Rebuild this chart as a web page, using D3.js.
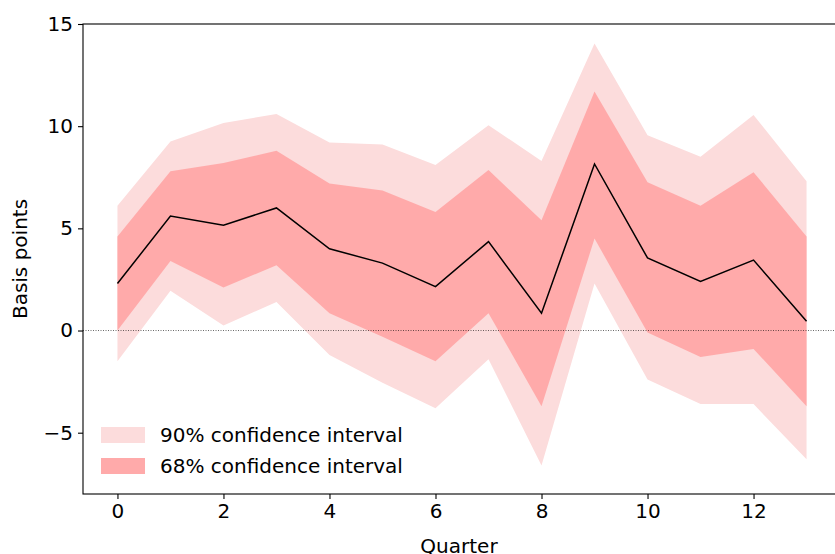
<!DOCTYPE html><html><head><script src="https://cdn.jsdelivr.net/npm/d3@7"></script>
<style>body{margin:0;background:#fff}text{font-family:"DejaVu Sans";fill:#000}</style></head><body><svg id="c" width="835" height="554"></svg><script>
const quarters=d3.range(14);
const mean=[2.3,5.6,5.15,6.0,4.0,3.3,2.15,4.35,0.85,8.15,3.55,2.4,3.45,0.45];
const up68=[4.6,7.8,8.2,8.8,7.2,6.85,5.8,7.85,5.4,11.7,7.25,6.1,7.75,4.6];
const lo68=[0.0,3.4,2.1,3.2,0.85,-0.3,-1.5,0.85,-3.7,4.5,-0.1,-1.3,-0.9,-3.7];
const up90=[6.1,9.25,10.15,10.6,9.2,9.1,8.1,10.05,8.3,14.05,9.55,8.5,10.55,7.3];
const lo90=[-1.5,1.95,0.25,1.4,-1.2,-2.55,-3.8,-1.4,-6.6,2.3,-2.4,-3.6,-3.6,-6.3];
const xTicks=[0,2,4,6,8,10,12], yTicks=[-5,0,5,10,15];
const FS=20;
const svg=d3.select("#c");
const x=d3.scaleLinear().domain([-0.65,13.65]).range([83,841]);
const y=d3.scaleLinear().domain([-8,15]).range([494,24]);
const area=(lo,hi)=>d3.area().x(i=>x(i)).y0(i=>y(lo[i])).y1(i=>y(hi[i]));
svg.append("path").attr("d",area(lo90,up90)(quarters)).attr("fill","#fcdcdc");
svg.append("path").attr("d",area(lo68,up68)(quarters)).attr("fill","#ffaaaa");
svg.append("line").attr("x1",83).attr("x2",835).attr("y1",y(0)).attr("y2",y(0)).attr("stroke","#000").attr("stroke-width",0.6).attr("stroke-dasharray","1,1.5");
svg.append("path").attr("d",d3.line().x(i=>x(i)).y(i=>y(mean[i]))(quarters)).attr("fill","none").attr("stroke","#000").attr("stroke-width",1.5);
const gx=svg.append("g").attr("transform","translate(0,494)").call(d3.axisBottom(x).tickValues(xTicks).tickSize(5).tickPadding(5));
const gy=svg.append("g").attr("transform","translate(83,0)").call(d3.axisLeft(y).tickValues(yTicks).tickSize(5).tickPadding(5).tickFormat(d=>d<0?"\u2212"+(-d):d));
[gx,gy].forEach(g=>{g.select(".domain").remove();g.selectAll("text").attr("font-size",FS).attr("font-family","DejaVu Sans");g.selectAll("line").attr("stroke-width",1.1);});
svg.append("rect").attr("x",83).attr("y",24).attr("width",760).attr("height",470).attr("fill","none").attr("stroke","#000").attr("stroke-width",1.1);
svg.append("text").attr("x",459).attr("y",553).attr("text-anchor","middle").attr("font-size",FS).text("Quarter");
svg.append("text").attr("transform","translate(27,259) rotate(-90)").attr("text-anchor","middle").attr("font-size",FS).text("Basis points");
const leg=[["90% confidence interval","#fcdcdc"],["68% confidence interval","#ffaaaa"]];
leg.forEach((l,i)=>{svg.append("rect").attr("x",101).attr("y",427+i*31).attr("width",44).attr("height",16).attr("fill",l[1]);
svg.append("text").attr("x",160).attr("y",442+i*31).attr("font-size",FS).text(l[0]);});
</script></body></html>
